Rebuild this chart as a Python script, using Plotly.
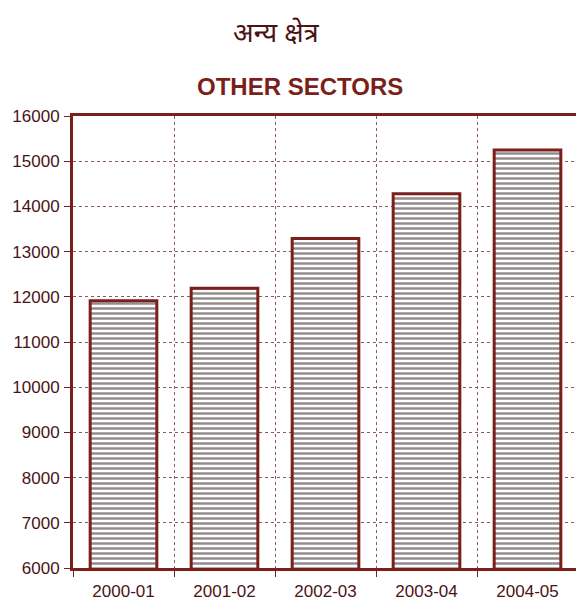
import plotly.graph_objects as go

categories = ["2000-01", "2001-02", "2002-03", "2003-04", "2004-05"]
values = [11910, 12190, 13290, 14280, 15250]
y_ticks = list(range(6000, 16001, 1000))
title_hindi = "अन्य क्षेत्र"
title_en = "OTHER SECTORS"

DARK = "#7a1f1a"
TXT = "#4a1414"

# page body has an 8px margin; work in figure coordinates
OFF = 8
W, H = 584, 601
L = 73 - OFF
T = 116 - OFF
R = W - (578 - OFF)
B = H - (568 - OFF)
pw = W - L - R
ph = H - T - B


def px_x(x):
    return (x - OFF - L) / pw


def px_y(y):
    return (H - B - (y - OFF)) / ph


fig = go.Figure()
fig.add_trace(go.Bar(
    x=categories, y=values,
    marker=dict(
        color="white",
        line=dict(color=DARK, width=3),
        pattern=dict(shape="-", fgcolor="#2a1a1a", bgcolor="white", size=5, solidity=0.5),
    ),
    width=0.66,
))

fig.update_layout(
    width=W, height=H,
    paper_bgcolor="white", plot_bgcolor="white",
    margin=dict(l=L, r=R, t=T, b=B, autoexpand=False),
    showlegend=False,
    font=dict(family="Liberation Sans, Arial", color=TXT),
    annotations=[
        dict(text=title_hindi, x=px_x(276), y=px_y(32), xref="paper", yref="paper",
             xanchor="center", yanchor="middle", showarrow=False,
             font=dict(size=27, color=TXT, family="Noto Sans, sans-serif")),
        dict(text="<b>" + title_en + "</b>", x=px_x(299.5), y=px_y(86.5), xref="paper", yref="paper",
             xanchor="center", yanchor="middle", showarrow=False,
             font=dict(size=24, color=DARK, family="Liberation Sans, Arial")),
    ],
)

fig.update_xaxes(
    type="category", tickson="boundaries", automargin=False,
    showline=True, linecolor=DARK, linewidth=3, mirror=True,
    showgrid=True, gridcolor="#8a5a5a", gridwidth=1, griddash="dot",
    ticks="outside", ticklen=6, tickcolor=DARK, tickwidth=1,
    tickfont=dict(size=17, color=TXT, family="Liberation Sans, Arial"),
    ticklabelstandoff=6,
)
fig.update_yaxes(
    range=[6000, 16000], tickvals=y_ticks, ticktext=[str(v) for v in y_ticks],
    automargin=False,
    showline=True, linecolor=DARK, linewidth=3, mirror=True,
    showgrid=True, gridcolor="#8a5a5a", gridwidth=1, griddash="dot",
    ticks="outside", ticklen=6, tickcolor=DARK, tickwidth=1,
    tickfont=dict(size=17, color=TXT, family="Liberation Sans, Arial"),
    ticklabelstandoff=1, zeroline=False,
)

fig.write_html("out.html")
